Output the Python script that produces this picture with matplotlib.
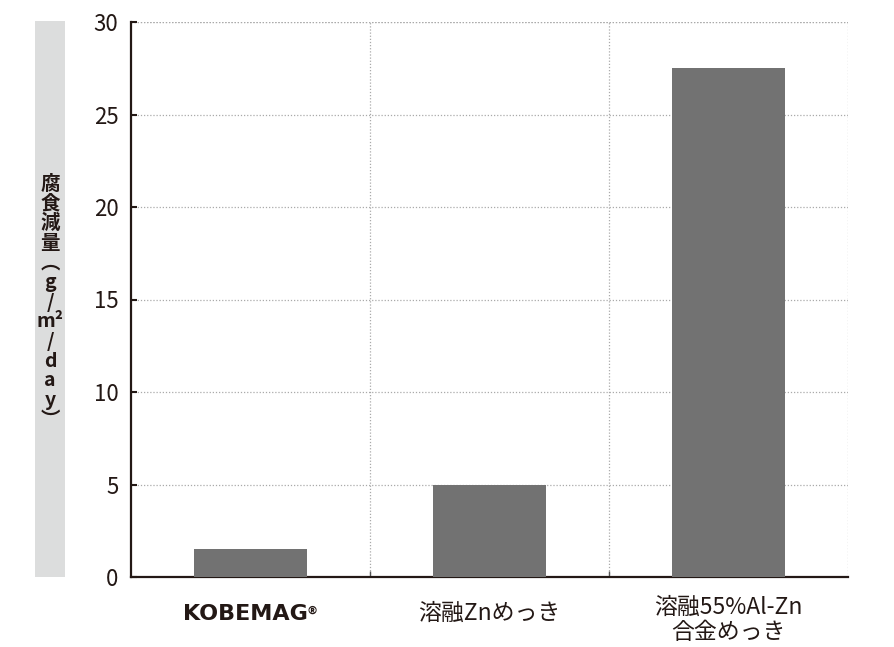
import matplotlib
matplotlib.use("Agg")
import matplotlib.pyplot as plt
from matplotlib.transforms import blended_transform_factory, offset_copy

plt.rcParams['font.family'] = ['Noto Sans CJK JP', 'DejaVu Sans']

categories = ['KOBEMAG', '溶融Znめっき', '溶融55%Al-Zn\n合金めっき']
values = [1.5, 5.0, 27.5]
yticks = [0, 5, 10, 15, 20, 25, 30]
ylabel_chars = ['腐', '食', '減', '量', '︵', 'g', '/', 'm²', '/', 'd', 'a', 'y', '︶']

fig = plt.figure(figsize=(8.94, 6.47), dpi=100)
ax = fig.add_axes([131/894, 70/647, 717/894, 555/647])

x = list(range(len(values)))
ax.bar(x, values, width=0.47, color='#727272', zorder=3)
ax.set_xlim(-0.5, 2.5)
ax.set_ylim(0, 30)
ax.set_yticks(yticks)
ax.set_yticklabels([str(v) for v in yticks], fontsize=16, color='#231815')
ax.tick_params(axis='y', direction='in', length=4, width=1.5, color='#231815', pad=9)

ax.set_xticks([0.5, 1.5])
ax.set_xticklabels(['', ''])
ax.tick_params(axis='x', direction='in', length=4, width=1, color='#555555')

ls = (0, (1, 1.5))
ax.grid(True, axis='both', linestyle=ls, color='#aaaaaa', linewidth=0.9, zorder=0)
for s in ['top', 'right']:
    ax.spines[s].set_visible(False)
ax.axvline(2.5, linestyle=ls, color='#aaaaaa', linewidth=0.9, zorder=0)
ax.axhline(30, linestyle=ls, color='#aaaaaa', linewidth=0.9, zorder=0)
for s in ['left', 'bottom']:
    ax.spines[s].set_linewidth(1.6)
    ax.spines[s].set_color('#231815')

trans = blended_transform_factory(ax.transData, ax.transAxes)
t0 = offset_copy(trans, fig=fig, x=-4, y=0, units='points')
ax.text(0, -0.067, categories[0], transform=t0, ha='center', va='center',
        fontsize=16, fontweight='bold', color='#231815', family=['DejaVu Sans'])
tr = offset_copy(trans, fig=fig, x=44.5, y=2.5, units='points')
ax.text(0, -0.067, '®', transform=tr, ha='center', va='center',
        fontsize=8, fontweight='bold', color='#231815', family=['DejaVu Sans'])
ax.text(1, -0.066, categories[1], transform=trans, ha='center', va='center',
        fontsize=16.5, color='#231815')
ax.text(2, -0.077, categories[2], transform=trans, ha='center', va='center',
        fontsize=16.5, color='#231815', linespacing=1.1)

# y-label gray band
fig.patches.append(plt.Rectangle((35/894, 70/647), 30/894, 556/647,
                                 transform=fig.transFigure, facecolor='#dcdddd',
                                 edgecolor='none', zorder=0))
y0, step = 184, 19.7
for i, ch in enumerate(ylabel_chars):
    fig.text(50/894, 1 - (y0 + i * step)/647, ch, ha='center', va='center',
             fontsize=14, fontweight='bold', color='#231815')

fig.savefig('out.png', dpi=100)
